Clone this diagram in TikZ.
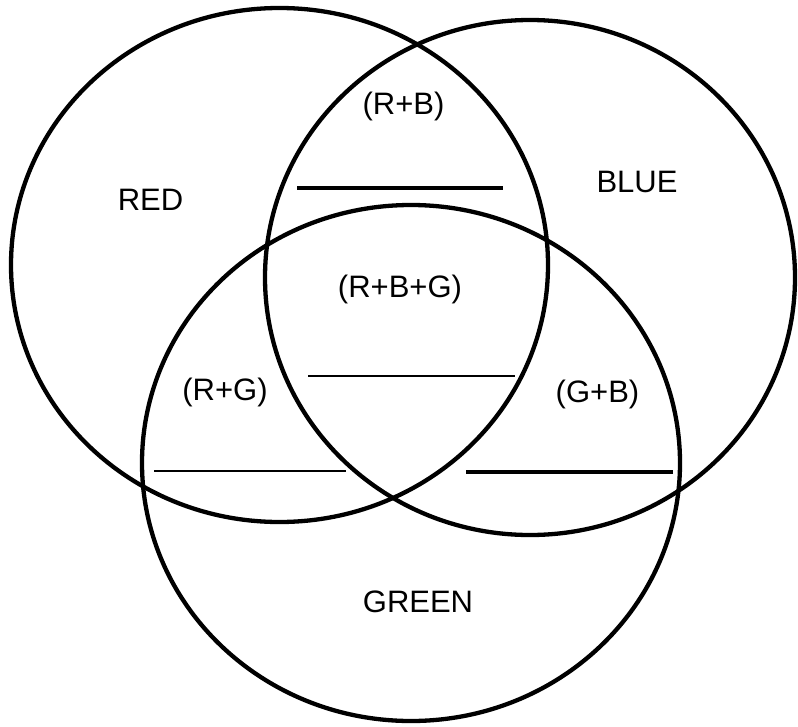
\documentclass[tikz,border=0pt]{standalone}
\usepackage{fontspec}
\setmainfont{Liberation Sans}
\usetikzlibrary{shapes.geometric}
\begin{document}
\begin{tikzpicture}[x=1pt,y=-1pt,
  setcircle/.style={draw=black,line width=4.3pt,ellipse,inner sep=0pt,fill=none},
  sepline/.style={draw=black,line width=2.5pt},
  lbl/.style={anchor=base,inner sep=0pt,font=\fontsize{31}{36}\selectfont}]
\useasboundingbox[fill=white] (0,0) rectangle (798,726);
\node[setcircle,minimum width=537pt,minimum height=514pt] (red) at (279.5,265) {};
\node[setcircle,minimum width=530pt,minimum height=515pt] (blue) at (530,277.5) {};
\node[setcircle,minimum width=538pt,minimum height=516pt] (green) at (411,463) {};
\draw[sepline,line width=3.2pt] (297,188) -- (503,188);
\draw[sepline,line width=2.2pt] (308,376) -- (515,376);
\draw[sepline,line width=2.5pt] (154,471) -- (346,471);
\draw[sepline,line width=3.2pt] (466,472) -- (673,472);
\node[lbl] (tred) at (150.5,210) {RED};
\node[lbl] (tblue) at (637,192) {BLUE};
\node[lbl] (trb) at (403.5,114) {(R+B)};
\node[lbl] (trbg) at (400,297) {(R+B+G)};
\node[lbl] (trg) at (225,400) {(R+G)};
\node[lbl] (tgb) at (597.5,402) {(G+B)};
\node[lbl] (tgreen) at (418,612) {GREEN};
\end{tikzpicture}
\end{document}
